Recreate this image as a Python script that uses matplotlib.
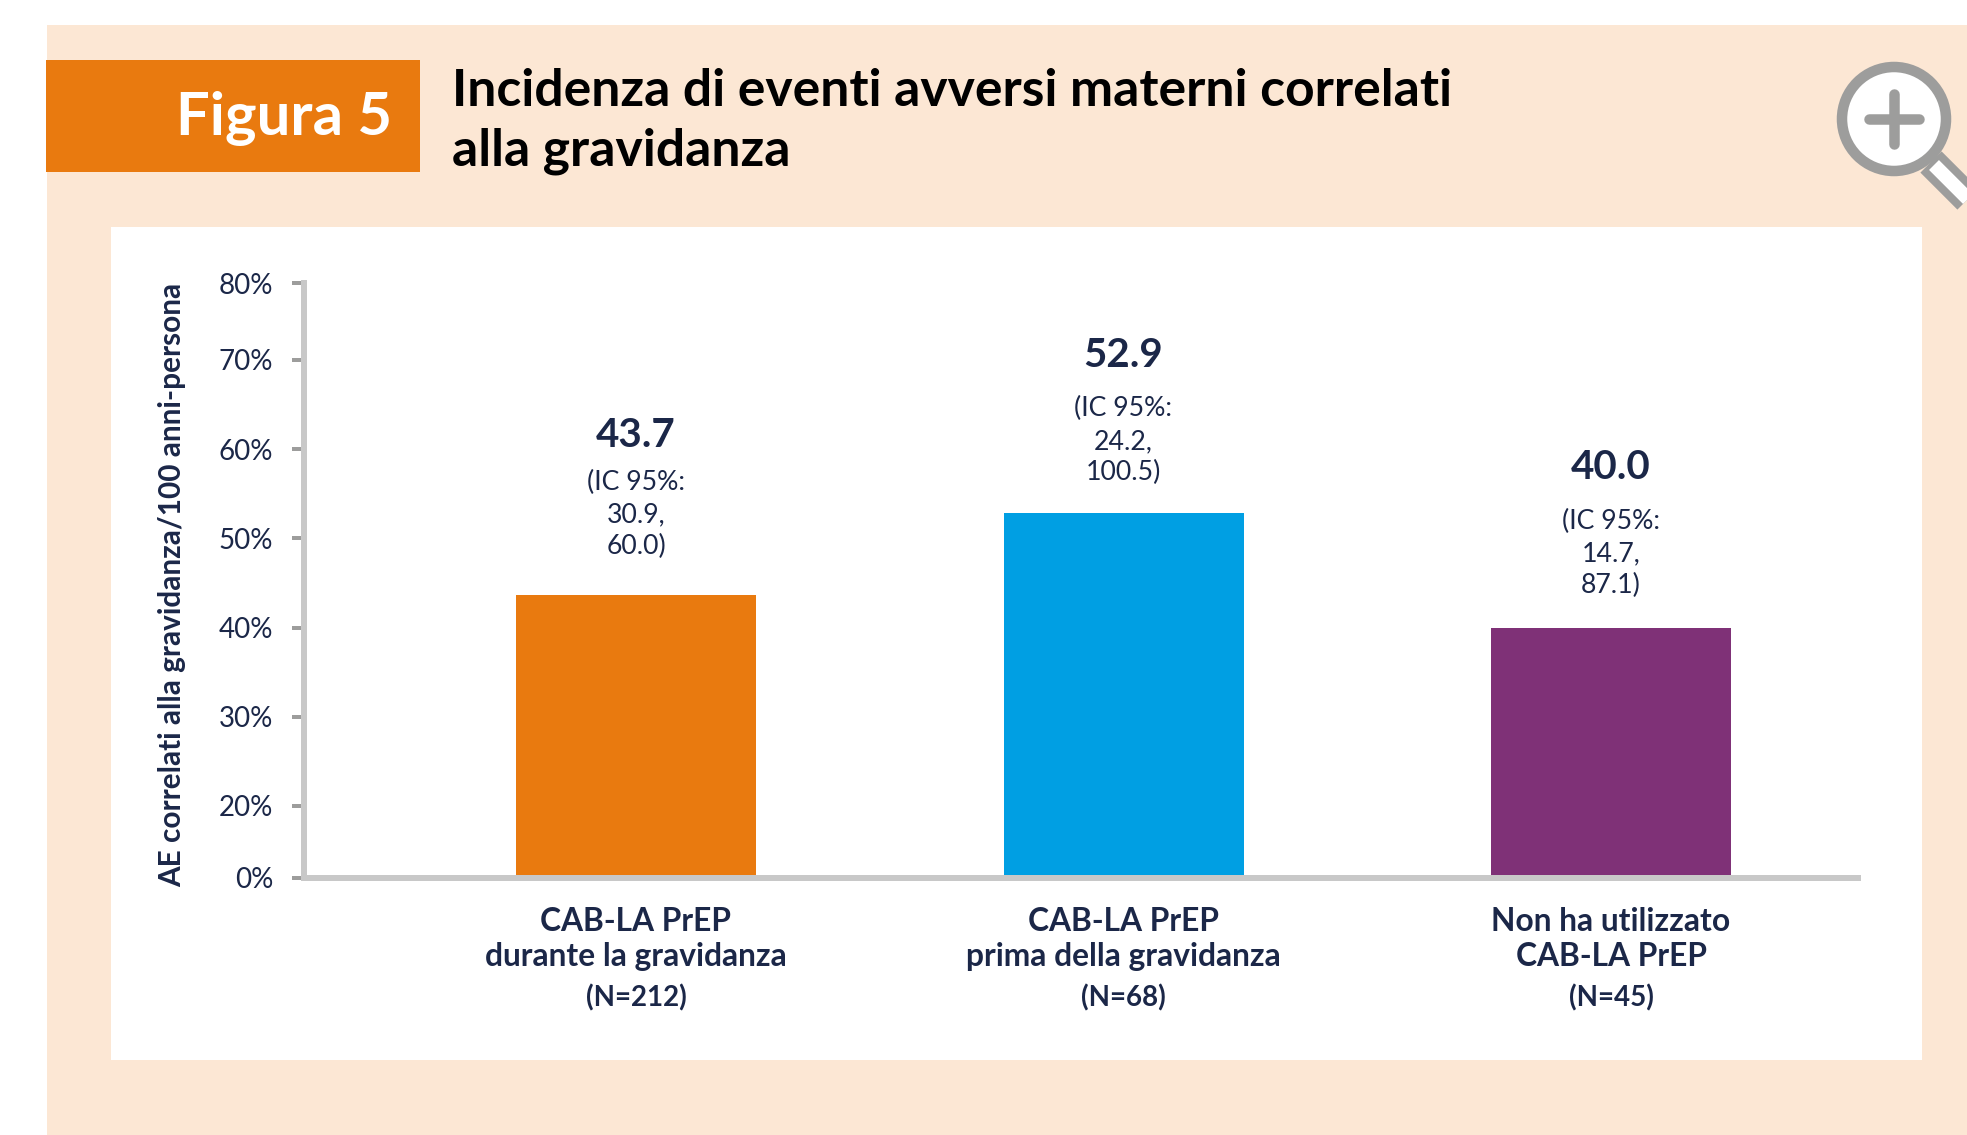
import numpy as np
import matplotlib
matplotlib.use("Agg")
import matplotlib.pyplot as plt
from matplotlib.patches import Rectangle, Circle

# ---- data ----
categories = ["CAB-LA PrEP\ndurante la gravidanza",
              "CAB-LA PrEP\nprima della gravidanza",
              "Non ha utilizzato\nCAB-LA PrEP"]
n_labels = ["(N=212)", "(N=68)", "(N=45)"]
values = [43.7, 52.9, 40.0]
ci_low = ["30.9,", "24.2,", "14.7,"]
ci_high = ["60.0)", "100.5)", "87.1)"]
value_labels = ["43.7", "52.9", "40.0"]
y_ticks = [0, 20, 30, 40, 50, 60, 70, 80]
y_ticklabels = ["0%", "20%", "30%", "40%", "50%", "60%", "70%", "80%"]
# the printed axis is not evenly spaced: value breakpoints and their relative height
axis_values = [0, 20, 70, 80]
axis_heights = [0, 72, 518, 595]

bar_colors = ["#E97A0F", "#009FE3", "#7F3177"]
NAVY = "#1B2748"
PEACH = "#FCE7D4"
ORANGE = "#E97A0F"
SPINE = "#C8C8C8"
TICK = "#9D9D9C"
FONT = "Lato"
W, H = 1967, 1135
px = 72 / 100  # one pixel in points at dpi 100

plt.rcParams["font.family"] = [FONT, "DejaVu Sans"]
fig = plt.figure(figsize=(W / 100, H / 100), dpi=100, facecolor="white")

# page furniture, in pixel coordinates
bg = fig.add_axes([0, 0, 1, 1], zorder=0)
bg.set_xlim(0, W)
bg.set_ylim(H, 0)
bg.axis("off")
bg.add_patch(Rectangle((47, 25), W - 47, H - 25, fc=PEACH, ec="none"))
bg.add_patch(Rectangle((111, 227), 1811, 833, fc="white", ec="none"))
bg.add_patch(Rectangle((46, 60), 374, 112, fc=ORANGE, ec="none"))
bg.text(392, 119, "Figura 5", color="white", fontsize=43, fontweight="bold",
        ha="right", va="center")
bg.text(452, 92, "Incidenza di eventi avversi materni correlati", color="black",
        fontsize=37.2, fontweight="bold", ha="left", va="center")
bg.text(452, 151, "alla gravidanza", color="black",
        fontsize=37.2, fontweight="bold", ha="left", va="center")

# magnifier
GLASS = "#9D9D9C"
bg.plot([1931, 2010], [162, 241], color=GLASS, lw=30 * px, solid_capstyle="butt")
bg.plot([1934, 2010], [165, 241], color="white", lw=14 * px, solid_capstyle="butt")
bg.add_patch(Circle((1894, 119), 52, fc="white", ec=GLASS, lw=10.5 * px))
bg.plot([1869, 1919], [119, 119], color=GLASS, lw=10.5 * px, solid_capstyle="round")
bg.plot([1894, 1894], [94, 144], color=GLASS, lw=10.5 * px, solid_capstyle="round")

# chart
left, right, top, bottom = 304, 1858, 283, 878
x0, dx = 636, 487.5
ax = fig.add_axes([left / W, 1 - bottom / H, (right - left) / W, (bottom - top) / H],
                  zorder=1, facecolor="none")
ax.set_yscale("function", functions=(
    lambda v: np.interp(v, axis_values, axis_heights),
    lambda h: np.interp(h, axis_heights, axis_values)))
x = np.arange(len(values))
ax.bar(x, values, width=240 / dx, color=bar_colors, zorder=2)
ax.set_xlim((left - x0) / dx, (right - x0) / dx)
ax.set_ylim(0, 80)

for s in ("top", "right"):
    ax.spines[s].set_visible(False)
for s in ("left", "bottom"):
    ax.spines[s].set_color(SPINE)
    ax.spines[s].set_linewidth(6 * px)
ax.spines["left"].set_zorder(3)
ax.spines["bottom"].set_zorder(3)

ax.set_yticks(y_ticks, y_ticklabels)
ax.yaxis.set_minor_locator(matplotlib.ticker.NullLocator())
ax.tick_params(axis="y", length=12 * px, width=4 * px, color=TICK, pad=19 * px,
               labelsize=20, labelcolor=NAVY)
ax.set_xticks(x, categories, fontweight="bold", linespacing=1.27)
ax.tick_params(axis="x", length=0, pad=29 * px, labelsize=22.9, labelcolor=NAVY)
ax.set_ylabel("AE correlati alla gravidanza/100 anni-persona", fontsize=21.4,
              fontweight="bold", color=NAVY)
ax.yaxis.set_label_coords((186 - left) / (right - left), (bottom - 585) / (bottom - top))

# value labels, offsets from the top of each bar in pixels
value_off = [159, 157, 160]
ci_offs = [(112.5, 80, 48.5), (104, 71, 40), (106.5, 74, 42.5)]
for i, v in enumerate(values):
    ax.annotate(value_labels[i], (i, v), xytext=(0, value_off[i] * px),
                textcoords="offset points", ha="center", va="center",
                fontsize=29, fontweight="bold", color=NAVY)
    for off, t in zip(ci_offs[i], ("(IC 95%:", ci_low[i], ci_high[i])):
        ax.annotate(t, (i, v), xytext=(0, off * px), textcoords="offset points",
                    ha="center", va="center", fontsize=19.2, color=NAVY)
    ax.annotate(n_labels[i], (i, 0), xytext=(0, -120 * px), textcoords="offset points",
                ha="center", va="center", fontsize=20, fontweight="bold", color=NAVY)

fig.savefig("out.png", dpi=100, facecolor="white")
